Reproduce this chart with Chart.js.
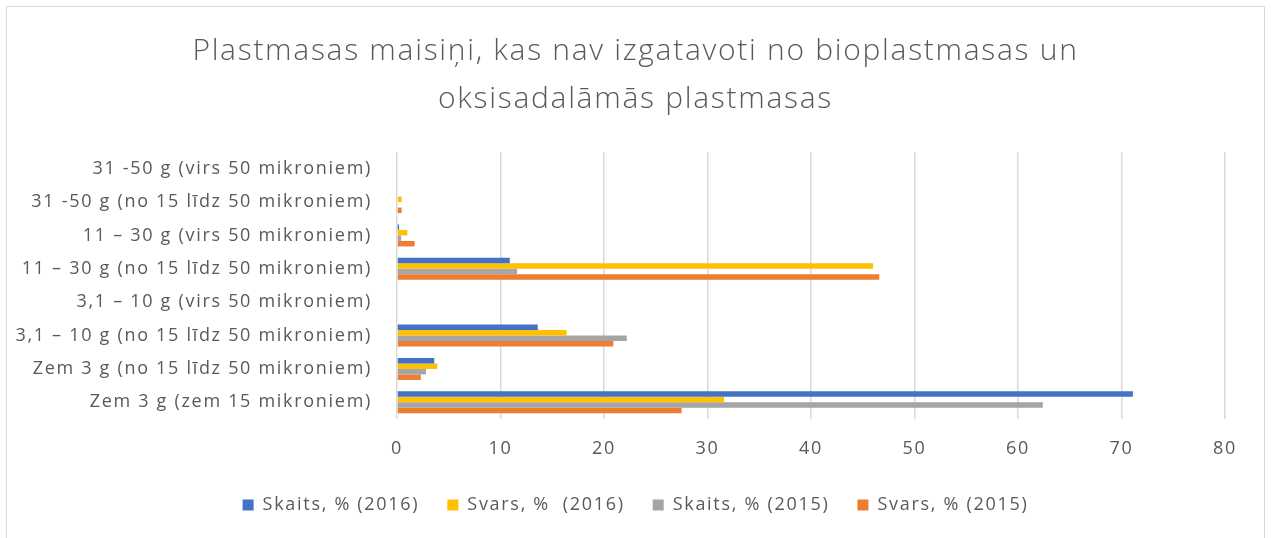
<!DOCTYPE html>
<html>
<head>
<meta charset="utf-8">
<script src="https://cdn.jsdelivr.net/npm/chart.js@4/dist/chart.umd.min.js"></script>
<style>
  html, body { margin: 0; padding: 0; background: #ffffff; }
  #wrap { position: relative; width: 1271px; height: 538px; overflow: hidden; }
  #frame { position: absolute; left: 6px; top: 6px; width: 1259px; height: 560px; border: 1.5px solid #d9d9d9; box-sizing: border-box; }
  canvas { position: absolute; left: 0; top: 0; }
</style>
</head>
<body>
<div id="wrap">
  <div id="frame"></div>
  <canvas id="c" width="1271" height="538"></canvas>
</div>
<script>
const titleLines = ["Plastmasas maisiņi, kas nav izgatavoti no bioplastmasas un", "oksisadalāmās plastmasas"];
const categories = [
  "31 -50 g (virs 50 mikroniem)",
  "31 -50 g (no 15 līdz 50 mikroniem)",
  "11 – 30 g (virs 50 mikroniem)",
  "11 – 30 g (no 15 līdz 50 mikroniem)",
  "3,1 – 10 g (virs 50 mikroniem)",
  "3,1 – 10 g (no 15 līdz 50 mikroniem)",
  "Zem 3 g (no 15 līdz 50 mikroniem)",
  "Zem 3 g (zem 15 mikroniem)"
];
const seriesNames = ["Skaits, % (2016)", "Svars, %  (2016)", "Skaits, % (2015)", "Svars, % (2015)"];
const skaits2016 = [0, 0, 0.2, 10.9, 0, 13.6, 3.6, 71.1];
const svars2016  = [0, 0.45, 1.0, 46.0, 0, 16.4, 3.9, 31.6];
const skaits2015 = [0, 0, 0.4, 11.6, 0, 22.2, 2.8, 62.4];
const svars2015  = [0, 0.45, 1.7, 46.6, 0, 20.9, 2.3, 27.5];
const xTicks = [0, 10, 20, 30, 40, 50, 60, 70, 80];

const colors = ["#4472C4", "#FFC000", "#A5A5A5", "#ED7D31"];
const seriesValues = [skaits2016, svars2016, skaits2015, svars2015];
const textColor = "#595959";
const fontFamily = "'Open Sans', 'Noto Sans', sans-serif";
const legendPad = 28;
const spacing = "1.7px";

const letterSpacingPlugin = {
  id: "letterSpacing",
  beforeInit(c) { c.ctx.letterSpacing = spacing; },
  beforeUpdate(c) { c.ctx.letterSpacing = spacing; },
  beforeLayout(c) { c.ctx.letterSpacing = spacing; },
  beforeDraw(c) { c.ctx.letterSpacing = spacing; }
};

new Chart(document.getElementById("c"), {
  type: "bar",
  plugins: [letterSpacingPlugin],
  data: {
    labels: categories,
    datasets: seriesNames.map((name, i) => ({
      label: name,
      data: seriesValues[i],
      backgroundColor: colors[i],
      borderWidth: 0,
      categoryPercentage: 0.66,
      barPercentage: 1.0
    }))
  },
  options: {
    indexAxis: "y",
    responsive: false,
    animation: false,
    devicePixelRatio: 1,
    layout: { padding: { left: 10, right: 10, top: 0, bottom: 14 } },
    plugins: {
      title: {
        display: true,
        text: titleLines,
        color: textColor,
        font: { family: fontFamily, size: 30, weight: 300, lineHeight: "48px" },
        padding: { top: 27, bottom: 29 }
      },
      legend: {
        position: "bottom",
        labels: {
          color: textColor,
          font: { family: fontFamily, size: 18 },
          boxWidth: 11,
          boxHeight: 11,
          padding: legendPad
        }
      },
      tooltip: { enabled: false }
    },
    scales: {
      x: {
        min: 0,
        max: 80,
        afterBuildTicks: (s) => { s.ticks = xTicks.map(v => ({ value: v })); },
        afterFit: (s) => { s.height = 77 - legendPad; },
        grid: { color: "#d9d9d9", lineWidth: 1.5, drawTicks: false },
        border: { display: false },
        ticks: { color: textColor, font: { family: fontFamily, size: 18 }, padding: 19.5 }
      },
      y: {
        afterFit: (s) => { s.width = 387; },
        grid: { display: false, drawTicks: false },
        border: { display: false },
        ticks: { color: textColor, font: { family: fontFamily, size: 18 }, padding: 25, autoSkip: false }
      },
      yRight: {
        type: "category",
        position: "right",
        afterFit: (s) => { s.width = 36; },
        grid: { display: false, drawTicks: false },
        border: { display: false },
        ticks: { display: false }
      }
    }
  }
});
</script>
</body>
</html>
